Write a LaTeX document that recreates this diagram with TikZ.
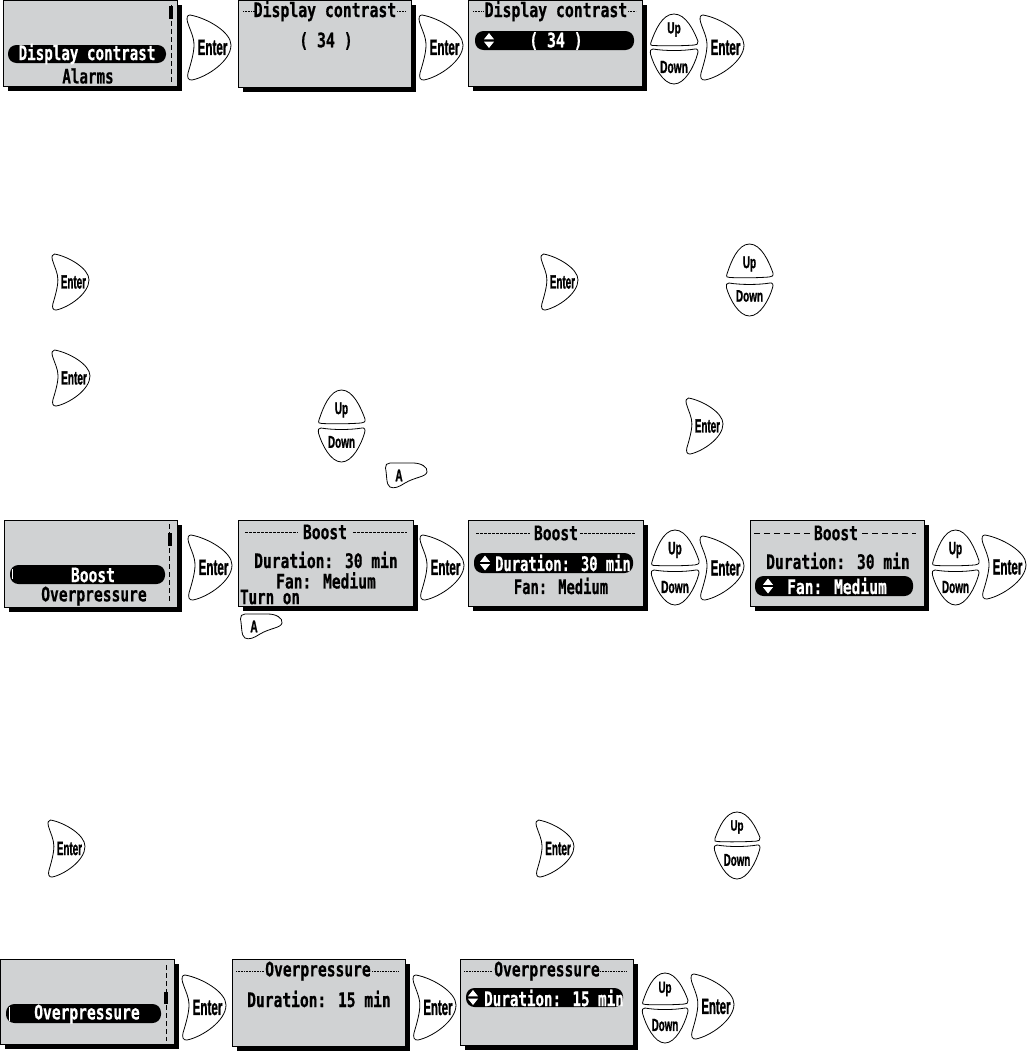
\documentclass[tikz,border=0pt]{standalone}
\usepackage{fontspec}
\usepackage{graphicx}
\newfontfamily\lcdfont{DejaVu Sans Mono}[BoldFeatures={FakeBold=.6}]
\newfontfamily\btnfont{Liberation Sans}[BoldFeatures={FakeBold=1.5}]
\definecolor{lcdgray}{HTML}{D0D2D3}
\newcommand{\lcdtxt}[2][.73]{\scalebox{#1}[1]{\fontsize{20}{20}\selectfont\lcdfont\bfseries #2}}
\newcommand{\btntxt}[2]{\scalebox{#1}[1]{\btnfont\bfseries #2}}
\tikzset{
  screen/.style={draw=black,fill=lcdgray,line width=1pt},
  shadowbox/.style={fill=black},
  pill/.style={fill=black,rounded corners=8.5pt},
  lcdtext/.style={inner sep=0pt,text=black},
  lcdinv/.style={inner sep=0pt,text=white},
  btn/.style={draw=black,fill=white,line width=.8pt},
  btnlabel/.style={inner sep=0pt,transform shape},
  scrollrule/.style={line width=.6pt,dash pattern=on 5pt off 3pt},
  thumb/.style={fill=black},
  dotrule/.style={line width=.6pt,dash pattern=on 1pt off .6pt},
  shortrule/.style={line width=.8pt,dash pattern=on 3pt off 1pt},
  longrule/.style={line width=.9pt,dash pattern=on 6pt off 4pt},
  arrowmark/.style={fill=white},
}
% screen: x1 y1 x2 y2
\newcommand{\lcdscreen}[4]{%
  \fill[shadowbox] (#1+5,#2+5) rectangle (#3+5,#4+5);
  \draw[screen] (#1,#2) rectangle (#3,#4);}
% scrollbar: x y1 y2 thumb1 thumb2
\newcommand{\scrollbar}[5]{%
  \draw[scrollrule] (#1,#2) -- (#1,#3);
  \fill[thumb] (#1-2,#4) rectangle (#1+2,#5);}
% pill: x1 y1 x2 y2
\newcommand{\pillbar}[4]{\fill[pill] (#1,#2) rectangle (#3,#4);}
% updown marks: x, ymid
\newcommand{\updownmark}[2]{%
  \fill[arrowmark] (#1-5,#2-1.2) -- (#1,#2-7.5) -- (#1+5,#2-1.2) -- cycle;
  \fill[arrowmark] (#1-5,#2+1.2) -- (#1,#2+7.5) -- (#1+5,#2+1.2) -- cycle;}
% buttons: name x y w h (label offset from the button's top, in pixels, where given)
\newcommand{\enterbtn}[5]{%
  \begin{scope}[shift={(#2,#3)},xscale={#4/44},yscale={#5/65}]
  \draw[btn] (3,0) .. controls (20,3) and (44,17) .. (44,30) .. controls (44,46) and (20,62) .. (5,65) .. controls (1,65.5) and (0,62) .. (1,58) .. controls (4,48) and (7,38) .. (7,30) .. controls (7,22) and (3,15) .. (0.5,7) .. controls (-0.5,3) and (0,0) .. (3,0) -- cycle;
  \node[btnlabel] (#1) at (25.5,32.5) {\fontsize{22}{22}\selectfont\btntxt{.53}{Enter}};
  \end{scope}}
\newcommand{\upbtn}[6]{%
  \begin{scope}[shift={(#2,#3)},xscale={#4/48},yscale={#5/34}]
  \draw[btn] (1,30) .. controls (5,18) and (12,0) .. (24,0) .. controls (36,0) and (44,18) .. (48,29) .. controls (49,32) and (46,33) .. (44,33) .. controls (30,34) and (15,34) .. (4,33.5) .. controls (1,33.5) and (0,33) .. (1,30) -- cycle;
  \node[btnlabel] (#1) at (24,{#6*34/#5}) {\fontsize{17}{17}\selectfont\btntxt{.6}{Up}};
  \end{scope}}
\newcommand{\downbtn}[6]{%
  \begin{scope}[shift={(#2,#3)},xscale={#4/48},yscale={#5/34}]
  \draw[btn] (3,0) .. controls (15,2) and (33,2) .. (45,0) .. controls (48,-.5) and (48.5,2) .. (47.5,5) .. controls (44,17) and (35,34) .. (24,34) .. controls (13,34) and (4,17) .. (0.5,5) .. controls (0,2) and (0.5,-.5) .. (3,0) -- cycle;
  \node[btnlabel] (#1) at (24,{#6*34/#5}) {\fontsize{17}{17}\selectfont\btntxt{.6}{Down}};
  \end{scope}}
\newcommand{\abtn}[3]{%
  \begin{scope}[shift={(#2,#3)}]
  \draw[btn] (5,0) -- (28,0) .. controls (36,0) and (43,4) .. (42,9) .. controls (41,14) and (30,14) .. (20,20) .. controls (14,24) and (9,26) .. (5,24) .. controls (1,22) and (2,12) .. (0.5,5) .. controls (0,2) and (2,0) .. (5,0) -- cycle;
  \node[btnlabel] (#1) at (14,12.5) {\fontsize{17}{17}\selectfont\btntxt{.6}{A}};
  \end{scope}}
\begin{document}
\begin{tikzpicture}[x=1pt,y=-1pt]
\useasboundingbox (0,0) rectangle (1026,1052);
% ---- row 1
\lcdscreen{3}{0}{177}{86}
\pillbar{8}{45}{166}{63}
\node[lcdinv] (a1) at (87,54) {\lcdtxt[.71]{Display contrast}};
\node[lcdtext] (a2) at (88,76) {\lcdtxt[.71]{Alarms}};
\scrollbar{171}{5}{83}{6}{19}
\enterbtn{e1}{187}{15}{44}{65}
\lcdscreen{238}{0}{411}{87}
\node[lcdtext] (b1) at (325,11) {\lcdtxt[.74]{Display contrast}};
\draw[dotrule] (243,11) -- (255,11);
\draw[dotrule] (397,11) -- (406,11);
\node[lcdtext] (b2) at (326,41) {\lcdtxt[.74]{( 34 )}};
\enterbtn{e2}{419}{15}{44}{65}
\lcdscreen{468}{0}{642}{86}
\node[lcdtext] (c1) at (556,11) {\lcdtxt[.74]{Display contrast}};
\draw[dotrule] (473,11) -- (484,11);
\draw[dotrule] (628,11) -- (636,11);
\pillbar{475}{31}{634}{50}
\updownmark{489}{40.5}
\node[lcdinv] (c2) at (556,41) {\lcdtxt[.74]{( 34 )}};
\upbtn{u1}{650}{14}{48}{32}{15.5}
\downbtn{d1}{650}{49}{48}{35}{18}
\enterbtn{e3}{700}{15}{44}{65}
% ---- free buttons, block 1
\enterbtn{e4}{52}{254}{37}{56}
\enterbtn{e5}{541}{254}{37}{56}
\upbtn{u2}{726}{244}{47}{34}{20}
\downbtn{d2}{726}{283}{47}{33}{13}
\enterbtn{e6}{52}{350}{38}{56}
\upbtn{u3}{318}{390}{47}{34}{20}
\downbtn{d3}{318}{428}{47}{34}{14}
\enterbtn{e7}{686}{398}{37}{56}
\abtn{a3}{385}{463}
% ---- row 2
\lcdscreen{4}{520}{177}{607}
\pillbar{10}{565}{165}{584}
\draw[white,line width=.8pt] (12.5,569) -- (12.5,579);
\node[lcdinv] (f1) at (93,575) {\lcdtxt{Boost}};
\node[lcdtext] (f2) at (94,596) {\lcdtxt{Overpressure}};
\scrollbar{169.5}{524}{603}{533}{546}
\enterbtn{e8}{188}{535}{44}{65}
\lcdscreen{238}{520}{413}{606}
\node[lcdtext] (g1) at (325,532) {\lcdtxt{Boost}};
\draw[shortrule] (245,532) -- (298,532);
\draw[shortrule] (353,532) -- (407,532);
\node[lcdtext] (g2) at (326,560) {\lcdtxt{Duration: 30 min}};
\node[lcdtext] (g3) at (326,580.5) {\lcdtxt{Fan: Medium}};
\node[lcdtext] (g4) at (270,597) {\lcdtxt[.71]{Turn on}};
\abtn{a4}{240}{614}
\enterbtn{e9}{420}{535}{44}{65}
\lcdscreen{468}{520}{643}{606}
\node[lcdtext] (h1) at (556,533) {\lcdtxt{Boost}};
\draw[shortrule] (476,533) -- (530,533);
\draw[shortrule] (580,533) -- (636,533);
\pillbar{474}{553}{633}{573}
\updownmark{485}{563}
\node[lcdinv] (h2) at (563,563) {\lcdtxt[.69]{Duration: 30 min}};
\node[lcdtext] (h3) at (561,586) {\lcdtxt[.69]{Fan: Medium}};
\upbtn{u4}{651}{530}{48}{36}{20}
\downbtn{d4}{651}{570}{48}{35}{17}
\enterbtn{e10}{700}{536}{44}{64}
\lcdscreen{750}{520}{924}{606}
\node[lcdtext] (i1) at (836,533) {\lcdtxt{Boost}};
\draw[longrule] (754,533) -- (812,533);
\draw[longrule] (862,533) -- (916,533);
\node[lcdtext] (i2) at (838,561) {\lcdtxt{Duration: 30 min}};
\pillbar{755}{576}{913}{596}
\updownmark{768}{586}
\node[lcdinv] (i3) at (837,586) {\lcdtxt{Fan: Medium}};
\upbtn{u5}{932}{530}{47}{36}{20}
\downbtn{d5}{932}{570}{47}{35}{17}
\enterbtn{e11}{982}{535}{44}{64}
% ---- free buttons, block 2
\enterbtn{e12}{48}{820}{37}{57}
\enterbtn{e13}{536}{820}{38}{57}
\upbtn{u6}{714}{812}{46}{30}{15}
\downbtn{d6}{714}{845}{46}{34}{15}
% ---- row 3
\lcdscreen{0}{959}{174}{1044}
\pillbar{6}{1004}{161}{1023}
\draw[white,line width=.8pt] (9,1007) -- (9,1021);
\node[lcdinv] (j1) at (87,1014) {\lcdtxt{Overpressure}};
\scrollbar{166}{965}{1041}{992}{1004}
\enterbtn{e14}{182}{975}{44}{65}
\lcdscreen{232}{959}{405}{1046}
\node[lcdtext] (k1) at (318,971) {\lcdtxt{Overpressure}};
\draw[dotrule] (236,971) -- (264,971);
\draw[dotrule] (372,971) -- (399,971);
\node[lcdtext] (k2) at (319,999) {\lcdtxt{Duration: 15 min}};
\enterbtn{e15}{413}{975}{43}{65}
\lcdscreen{460}{959}{633}{1045}
\node[lcdtext] (l1) at (547,971) {\lcdtxt{Overpressure}};
\draw[dotrule] (464,971) -- (492,971);
\draw[dotrule] (600,971) -- (627,971);
\pillbar{466}{988}{623}{1007}
\updownmark{473}{997.5}
\node[lcdinv] (l2) at (554,998) {\lcdtxt[.71]{Duration: 15 min}};
\upbtn{u7}{642}{973}{46}{32}{16}
\downbtn{d7}{642}{1008}{46}{35}{17}
\enterbtn{e16}{691}{974}{43}{65}
\end{tikzpicture}
\end{document}
